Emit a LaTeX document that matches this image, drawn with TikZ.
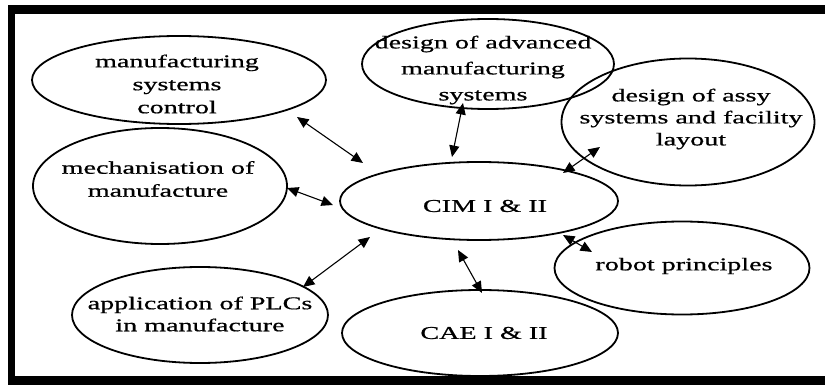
\documentclass[tikz,border=0pt]{standalone}
\usepackage{fontspec}
\setmainfont{Liberation Serif}[FakeStretch=1.56,FakeBold=0.8]
\usetikzlibrary{shapes.geometric,arrows.meta,calc}

\tikzset{
  topic/.style={ellipse, draw=black, line width=1.8pt, inner sep=0pt, fill=none},
  label/.style={align=center, inner sep=0pt, font=\fontsize{18}{23}\selectfont},
  link/.style={line width=1.1pt,
    {Triangle[length=11.5pt,width=10pt]}-{Triangle[length=11.5pt,width=10pt]}},
  frame/.style={fill=black}
}

\begin{document}
\begin{tikzpicture}[x=1pt,y=-1pt]
\useasboundingbox (0,0) rectangle (825,385);

% heavy frame: top, left and bottom bars
\fill[frame] (8,5) rectangle (825,14);
\fill[frame] (8,5) rectangle (15,385);
\fill[frame] (8,376) rectangle (825,385);

% topic ellipses
\node[topic, minimum width=294pt, minimum height=88pt]  (mc)    at (179,80)  {};
\node[topic, minimum width=254pt, minimum height=116pt] (mech)  at (160,186) {};
\node[topic, minimum width=252pt, minimum height=90pt]  (adv)   at (488,64)  {};
\node[topic, minimum width=253pt, minimum height=127pt] (assy)  at (688,122) {};
\node[topic, minimum width=278pt, minimum height=78pt]  (cim)   at (479,201) {};
\node[topic, minimum width=255pt, minimum height=93pt]  (robot) at (682,268) {};
\node[topic, minimum width=276pt, minimum height=86pt]  (cae)   at (480,333) {};
\node[topic, minimum width=256pt, minimum height=96pt]  (plc)   at (200,315) {};

% texts
\node[label] (mctext)    at (177,84)  {manufacturing\\systems\\control};
\node[label, font=\fontsize{18}{26}\selectfont] (advtext) at (483,70) {design of advanced\\manufacturing\\systems};
\node[label, font=\fontsize{18}{22}\selectfont] (assytext) at (691,119) {design of assy\\systems and facility\\layout};
\node[label] (mechtext)  at (158,179) {mechanisation of\\manufacture};
\node[label, font=\fontsize{18}{22}\selectfont] (plctext) at (200,314) {application of PLCs\\in manufacture};
\node[label] (robottext) at (684,266) {robot principles};
\node[label] (cimtext)   at (485,206) {CIM I \& II};
\node[label] (caetext)   at (484,333) {CAE I \& II};

% two-way links around the CIM topic
\draw[link] ($(mc.center)+(118,37)$)    -- ($(cim.center)+(-116,-38)$);
\draw[link] ($(mech.center)+(127,2)$)   -- ($(cim.center)+(-146,4)$);
\draw[link] ($(plc.center)+(103,-28)$)  -- ($(cim.center)+(-109,36)$);
\draw[link] ($(adv.center)+(-25,39)$)   -- ($(cim.center)+(-27,-44)$);
\draw[link] ($(assy.center)+(-88,25)$)  -- ($(cim.center)+(84,-28)$);
\draw[link] ($(cim.center)+(84,34)$)    -- ($(robot.center)+(-90,-16)$);
\draw[link] ($(cim.center)+(-21,49)$)   -- ($(cae.center)+(2,-40)$);
\end{tikzpicture}
\end{document}
